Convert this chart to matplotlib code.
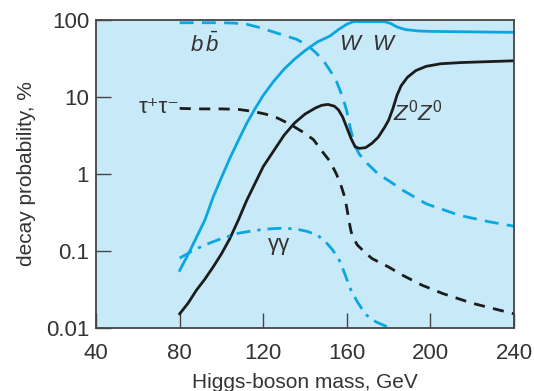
import matplotlib.pyplot as plt

plt.rcParams['font.family'] = ['Liberation Sans', 'DejaVu Sans']
plt.rcParams['mathtext.fontset'] = 'custom'
plt.rcParams['mathtext.it'] = 'Liberation Sans:italic'
plt.rcParams['mathtext.rm'] = 'Liberation Sans'

# values (mass in GeV, probability in %)
ww_mass = [80, 84, 88, 92, 96, 100, 104, 108, 112, 116, 120, 125, 130, 135, 140, 146, 152, 156, 160, 163, 170, 178, 181, 184, 188, 194, 200, 220, 240]
ww_prob = [0.056, 0.09, 0.15, 0.25, 0.5, 0.9, 1.6, 2.7, 4.5, 7.0, 10.5, 16, 23, 31, 40, 52, 62, 75, 88, 95, 95, 95, 90, 81, 75, 72, 71, 70, 69]

bb_mass = [80, 90, 100, 106, 112, 118, 124, 130, 136, 141, 145, 149, 152, 155, 158, 160, 162, 164, 166, 170, 175, 180, 187, 198, 214, 228, 240]
bb_prob = [92, 92, 92, 91, 88, 80, 71, 63, 56, 47, 38, 29, 22, 16, 10, 6.5, 3.6, 2.3, 1.8, 1.35, 1.0, 0.82, 0.61, 0.41, 0.29, 0.24, 0.21]

zz_mass = [80, 84, 88, 92, 96, 100, 104, 108, 112, 116, 120, 125, 130, 135, 140, 145, 148, 151, 154, 156, 158, 160, 162, 164, 166, 169, 172, 175, 178, 180, 182, 184, 186, 189, 193, 198, 205, 215, 240]
zz_prob = [0.0153, 0.021, 0.031, 0.043, 0.062, 0.092, 0.145, 0.25, 0.45, 0.75, 1.25, 2.0, 3.2, 4.6, 6.0, 7.2, 7.8, 8.0, 7.6, 6.8, 5.5, 4.0, 2.9, 2.25, 2.15, 2.2, 2.5, 3.0, 4.0, 5.0, 7.0, 10.5, 14, 18, 22, 25, 27, 28, 29.5]

tau_mass = [80, 90, 100, 108, 115, 121, 127, 133, 139, 144, 148, 152, 155, 157, 159, 160, 161, 162, 163, 165, 168, 172, 180, 187, 196, 206, 220, 240]
tau_prob = [7.1, 7.0, 7.0, 6.9, 6.5, 6.0, 5.3, 4.4, 3.5, 2.8, 2.0, 1.45, 1.0, 0.74, 0.5, 0.36, 0.25, 0.18, 0.15, 0.12, 0.1, 0.08, 0.062, 0.048, 0.036, 0.028, 0.021, 0.0153]

gg_mass = [80, 86, 92, 100, 108, 116, 124, 130, 136, 141, 146, 150, 153, 156, 158, 160, 162, 165, 169, 174, 180]
gg_prob = [0.081, 0.1, 0.12, 0.145, 0.17, 0.185, 0.195, 0.198, 0.192, 0.18, 0.16, 0.13, 0.105, 0.08, 0.06, 0.043, 0.031, 0.022, 0.015, 0.012, 0.0102]

x_ticks = [40, 80, 120, 160, 200, 240]
y_ticks = [0.01, 0.1, 1, 10, 100]
y_labels = ['0.01', '0.1', '1', '10', '100']

blue = '#0aa6e2'
black = '#1c1c1c'

fig = plt.figure(figsize=(5.34, 3.91), dpi=100)
ax = fig.add_axes([0.18, 0.161, 0.7825, 0.788])
ax.set_facecolor('#c8e9f8')

ax.plot(ww_mass, ww_prob, color=blue, lw=2)
ax.plot(bb_mass, bb_prob, color=blue, lw=2, dashes=(5, 3))
ax.plot(zz_mass, zz_prob, color=black, lw=2)
ax.plot(tau_mass, tau_prob, color=black, lw=2, dashes=(4, 3))
ax.plot(gg_mass, gg_prob, color=blue, lw=2, dashes=(5, 2.5, 1.2, 2.5))

ax.set_yscale('log')
ax.set_xlim(40, 240)
ax.set_ylim(0.01, 100)
ax.set_xticks(x_ticks)
ax.set_yticks(y_ticks)
ax.set_yticklabels(y_labels)
ax.minorticks_off()
ax.tick_params(direction='in', length=11, width=1, color='#444444',
               labelsize=16, labelcolor='#333333', pad=5)
ax.tick_params(axis='x', pad=11)
for s in ax.spines.values():
    s.set_color('#444444')
    s.set_linewidth(1.3)

ax.set_xlabel('Higgs-boson mass, GeV', fontsize=15, color='#333333', labelpad=6)
ax.set_ylabel('decay probability, %', fontsize=15, color='#333333', labelpad=7)

lab = dict(fontsize=16, color='#333333')
ax.text(92, 48, r'$b\,\bar{b}$', ha='center', va='center', **lab)
ax.text(170, 48, r'$W\ \ W$', ha='center', va='center', **lab)
ax.text(194, 6.3, r'$Z^0Z^0$', ha='center', va='center', **lab)
ax.text(80, 7.4, '\u03c4\u207a\u03c4\u207b', ha='right', va='center', **lab)
ax.text(127.5, 0.12, '\u03b3\u03b3', ha='center', va='center', **lab)

plt.savefig('out.png', dpi=100)
